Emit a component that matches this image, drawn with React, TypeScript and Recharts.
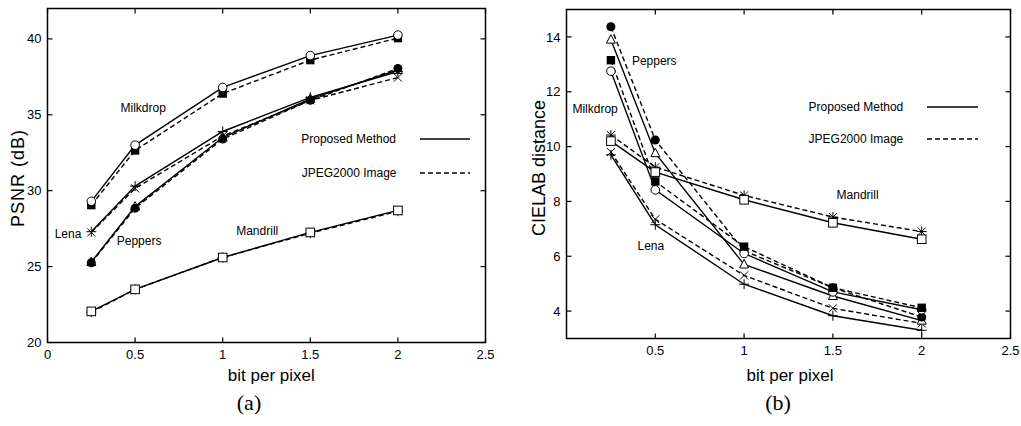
import { LineChart, Line, XAxis, YAxis, ReferenceDot } from "recharts";

const FONT = "'Liberation Sans', Arial, Helvetica, sans-serif";
const SERIF = "'Liberation Serif', 'Times New Roman', serif";

// bit per pixel
const BPP = [0.25, 0.5, 1, 1.5, 2];

// (a) PSNR in dB
const PSNR_MILKDROP_PROP = [29.3, 33.0, 36.8, 38.9, 40.25];
const PSNR_MILKDROP_JPEG = [29.05, 32.65, 36.4, 38.6, 40.05];
const PSNR_LENA_PROP = [27.3, 30.3, 33.9, 36.15, 37.85];
const PSNR_LENA_JPEG = [27.25, 30.15, 33.6, 35.95, 37.45];
const PSNR_PEPPERS_PROP = [25.3, 28.95, 33.5, 36.05, 37.95];
const PSNR_PEPPERS_JPEG = [25.25, 28.85, 33.4, 35.95, 38.05];
const PSNR_MANDRILL_PROP = [22.05, 23.5, 25.6, 27.25, 28.7];
const PSNR_MANDRILL_JPEG = [22.0, 23.5, 25.6, 27.2, 28.65];

// (b) CIELAB distance
const CIE_MILKDROP_PROP = [12.75, 8.42, 6.1, 4.7, 4.05];
const CIE_MILKDROP_JPEG = [13.15, 8.73, 6.35, 4.85, 4.12];
const CIE_PEPPERS_PROP = [13.9, 9.76, 5.7, 4.55, 3.65];
const CIE_PEPPERS_JPEG = [14.37, 10.24, 6.2, 4.85, 3.78];
const CIE_MANDRILL_PROP = [10.2, 9.07, 8.06, 7.22, 6.62];
const CIE_MANDRILL_JPEG = [10.42, 9.25, 8.22, 7.43, 6.9];
const CIE_LENA_PROP = [9.7, 7.15, 4.98, 3.83, 3.3];
const CIE_LENA_JPEG = [9.8, 7.35, 5.3, 4.1, 3.55];

const X_TICKS_A = [0, 0.5, 1, 1.5, 2, 2.5];
const X_TICKS_B = [0.5, 1, 1.5, 2, 2.5];
const Y_TICKS_A = [20, 25, 30, 35, 40];
const Y_TICKS_B = [4, 6, 8, 10, 12, 14];

const LABELS_A = [
  { text: "Milkdrop", x: 0.546, y: 35.45 },
  { text: "Lena", x: 0.117, y: 27.14 },
  { text: "Peppers", x: 0.523, y: 26.73 },
  { text: "Mandrill", x: 1.197, y: 27.37 },
];
const LABELS_B = [
  { text: "Peppers", x: 0.494, y: 13.13 },
  { text: "Milkdrop", x: 0.161, y: 11.39 },
  { text: "Lena", x: 0.475, y: 6.37 },
  { text: "Mandrill", x: 1.639, y: 8.24 },
];

type Kind =
  | "circleOpen"
  | "circleFilled"
  | "squareOpen"
  | "squareFilled"
  | "triangle"
  | "plus"
  | "cross"
  | "star";

type Series = { key: string; values: number[]; kind: Kind; dashed: boolean };

// drawing order matters where markers overlap
const SERIES_A: Series[] = [
  { key: "mandrillJ", values: PSNR_MANDRILL_JPEG, kind: "star", dashed: true },
  { key: "mandrillP", values: PSNR_MANDRILL_PROP, kind: "squareOpen", dashed: false },
  { key: "peppersP", values: PSNR_PEPPERS_PROP, kind: "triangle", dashed: false },
  { key: "peppersJ", values: PSNR_PEPPERS_JPEG, kind: "circleFilled", dashed: true },
  { key: "lenaJ", values: PSNR_LENA_JPEG, kind: "cross", dashed: true },
  { key: "lenaP", values: PSNR_LENA_PROP, kind: "plus", dashed: false },
  { key: "milkJ", values: PSNR_MILKDROP_JPEG, kind: "squareFilled", dashed: true },
  { key: "milkP", values: PSNR_MILKDROP_PROP, kind: "circleOpen", dashed: false },
];

const SERIES_B: Series[] = [
  { key: "mandrillJ", values: CIE_MANDRILL_JPEG, kind: "star", dashed: true },
  { key: "mandrillP", values: CIE_MANDRILL_PROP, kind: "squareOpen", dashed: false },
  { key: "lenaJ", values: CIE_LENA_JPEG, kind: "cross", dashed: true },
  { key: "lenaP", values: CIE_LENA_PROP, kind: "plus", dashed: false },
  { key: "peppersP", values: CIE_PEPPERS_PROP, kind: "triangle", dashed: false },
  { key: "peppersJ", values: CIE_PEPPERS_JPEG, kind: "circleFilled", dashed: true },
  { key: "milkP", values: CIE_MILKDROP_PROP, kind: "circleOpen", dashed: false },
  { key: "milkJ", values: CIE_MILKDROP_JPEG, kind: "squareFilled", dashed: true },
];

const buildRows = (series: Series[]) =>
  BPP.map((x, i) => {
    const row: Record<string, number> = { x };
    series.forEach((s) => (row[s.key] = s.values[i]));
    return row;
  });

const Marker = ({ cx, cy, kind }: { cx?: number; cy?: number; kind: Kind }) => {
  if (cx == null || cy == null) return null;
  const k = "#000";
  switch (kind) {
    case "circleOpen":
      return <circle cx={cx} cy={cy} r={4.3} fill="#fff" stroke={k} strokeWidth={1} />;
    case "circleFilled":
      return <circle cx={cx} cy={cy} r={4.5} fill={k} />;
    case "squareOpen":
      return <rect x={cx - 4.3} y={cy - 4.3} width={8.6} height={8.6} fill="#fff" stroke={k} strokeWidth={1} />;
    case "squareFilled":
      return <rect x={cx - 4.2} y={cy - 4.2} width={8.4} height={8.4} fill={k} />;
    case "triangle":
      return (
        <polygon
          points={`${cx},${cy - 5} ${cx - 4.5},${cy + 3.5} ${cx + 4.5},${cy + 3.5}`}
          fill="#fff"
          stroke={k}
          strokeWidth={1}
        />
      );
    case "plus":
      return (
        <g stroke={k} strokeWidth={1}>
          <line x1={cx - 5} y1={cy} x2={cx + 5} y2={cy} />
          <line x1={cx} y1={cy - 5} x2={cx} y2={cy + 5} />
        </g>
      );
    case "cross":
      return (
        <g stroke={k} strokeWidth={1}>
          <line x1={cx - 4} y1={cy - 4} x2={cx + 4} y2={cy + 4} />
          <line x1={cx - 4} y1={cy + 4} x2={cx + 4} y2={cy - 4} />
        </g>
      );
    default:
      return (
        <g stroke={k} strokeWidth={1}>
          <line x1={cx - 5} y1={cy} x2={cx + 5} y2={cy} />
          <line x1={cx} y1={cy - 5} x2={cx} y2={cy + 5} />
          <line x1={cx - 4} y1={cy - 4} x2={cx + 4} y2={cy + 4} />
          <line x1={cx - 4} y1={cy + 4} x2={cx + 4} y2={cy - 4} />
        </g>
      );
  }
};

const tickStyle = { fill: "#000", fontSize: 13, fontFamily: FONT };
const TICK_PX = 5;
const CHART_H = 426;
const X_AXIS_H = 30;
const X_DOMAIN: [number, number] = [0, 2.5];

type Margin = { top: number; right: number; bottom: number; left: number };

// gnuplot style box around the plot area, ticks pointing inward on every side
const Frame = ({ x, y, w, h, xTicks, yTicks, yDomain }: {
  x: number;
  y: number;
  w: number;
  h: number;
  xTicks: number[];
  yTicks: number[];
  yDomain: [number, number];
}) => {
  const px = (v: number) => x + ((v - X_DOMAIN[0]) / (X_DOMAIN[1] - X_DOMAIN[0])) * w;
  const py = (v: number) => y + ((yDomain[1] - v) / (yDomain[1] - yDomain[0])) * h;
  return (
    <svg
      width={x + w + 4}
      height={y + h + 4}
      style={{ position: "absolute", left: 0, top: 0, pointerEvents: "none" }}
    >
      <rect x={x} y={y} width={w} height={h} fill="none" stroke="#000" strokeWidth={1.5} />
      <g stroke="#000" strokeWidth={1.2}>
        {xTicks.map((t) => (
          <g key={`x${t}`}>
            <line x1={px(t)} y1={y + h} x2={px(t)} y2={y + h - TICK_PX} />
            <line x1={px(t)} y1={y} x2={px(t)} y2={y + TICK_PX} />
          </g>
        ))}
        {yTicks.map((t) => (
          <g key={`y${t}`}>
            <line x1={x} y1={py(t)} x2={x + TICK_PX} y2={py(t)} />
            <line x1={x + w} y1={py(t)} x2={x + w - TICK_PX} y2={py(t)} />
          </g>
        ))}
      </g>
    </svg>
  );
};

const Panel = ({
  series,
  labels,
  xTicks,
  yTicks,
  yDomain,
  width,
  yAxisWidth,
  margin,
}: {
  series: Series[];
  labels: { text: string; x: number; y: number }[];
  xTicks: number[];
  yTicks: number[];
  yDomain: [number, number];
  width: number;
  yAxisWidth: number;
  margin: Margin;
}) => {
  const plotX = margin.left + yAxisWidth;
  const plotW = width - margin.right - plotX;
  const plotH = CHART_H - margin.top - margin.bottom - X_AXIS_H;
  return (
    <div style={{ position: "relative", width, height: CHART_H }}>
      <LineChart width={width} height={CHART_H} data={buildRows(series)} margin={margin}>
        <XAxis
          dataKey="x"
          type="number"
          domain={X_DOMAIN}
          ticks={xTicks}
          interval={0}
          allowDataOverflow
          axisLine={false}
          tickLine={false}
          tickSize={0}
          tickMargin={7}
          height={X_AXIS_H}
          tick={tickStyle}
        />
        <YAxis
          type="number"
          domain={yDomain}
          ticks={yTicks}
          interval={0}
          allowDataOverflow
          axisLine={false}
          tickLine={false}
          tickSize={0}
          tickMargin={6}
          width={yAxisWidth}
          tick={tickStyle}
        />
        {series.map((s) => (
          <Line
            key={s.key}
            dataKey={s.key}
            type="linear"
            stroke="#000"
            strokeWidth={1.4}
            strokeDasharray={s.dashed ? "5 3" : undefined}
            dot={(p: any) => <Marker key={`${s.key}-${p.index}`} cx={p.cx} cy={p.cy} kind={s.kind} />}
            activeDot={false}
            isAnimationActive={false}
          />
        ))}
        {labels.map((l) => (
          <ReferenceDot
            key={l.text}
            x={l.x}
            y={l.y}
            r={0}
            fill="none"
            stroke="none"
            label={{ value: l.text, position: "center", fill: "#000", fontSize: 12, fontFamily: FONT }}
          />
        ))}
      </LineChart>
      <Frame x={plotX} y={margin.top} w={plotW} h={plotH} xTicks={xTicks} yTicks={yTicks} yDomain={yDomain} />
    </div>
  );
};

const Txt = ({
  x,
  y,
  children,
  size = 12,
  rotate = 0,
  family = FONT,
  spacing = 0,
}: {
  x: number;
  y: number;
  children: string;
  size?: number;
  rotate?: number;
  family?: string;
  spacing?: number;
}) => (
  <div
    style={{
      position: "absolute",
      left: x,
      top: y,
      transform: `translate(-50%, -50%) rotate(${rotate}deg)`,
      fontSize: size,
      fontFamily: family,
      lineHeight: 1,
      whiteSpace: "nowrap",
      letterSpacing: spacing,
      color: "#000",
    }}
  >
    {children}
  </div>
);

const LegendKey = ({ right, y, lineX1, lineX2, text, dashed }: {
  right: number;
  y: number;
  lineX1: number;
  lineX2: number;
  text: string;
  dashed: boolean;
}) => (
  <>
    <div
      style={{
        position: "absolute",
        left: right - 200,
        width: 200,
        top: y - 7,
        textAlign: "right",
        fontSize: 12,
        fontFamily: FONT,
        lineHeight: "14px",
        whiteSpace: "nowrap",
      }}
    >
      {text}
    </div>
    <svg style={{ position: "absolute", left: lineX1, top: y - 2 }} width={lineX2 - lineX1} height={4}>
      <line x1={0} y1={2} x2={lineX2 - lineX1} y2={2} stroke="#000" strokeWidth={1.4} strokeDasharray={dashed ? "5 3" : undefined} />
    </svg>
  </>
);

export default function App() {
  return (
    <div style={{ position: "absolute", left: 0, top: 0, width: 1021, height: 426, background: "#fff" }}>
      <div style={{ position: "absolute", left: 0, top: 0 }}>
        <Panel
          series={SERIES_A}
          labels={LABELS_A}
          xTicks={X_TICKS_A}
          yTicks={Y_TICKS_A}
          yDomain={[20, 42]}
          width={500}
          yAxisWidth={47.5}
          margin={{ top: 8.5, right: 14.5, bottom: 53.5, left: 0 }}
        />
      </div>
      <div style={{ position: "absolute", left: 510, top: 0 }}>
        <Panel
          series={SERIES_B}
          labels={LABELS_B}
          xTicks={X_TICKS_B}
          yTicks={Y_TICKS_B}
          yDomain={[3, 15]}
          width={511}
          yAxisWidth={50}
          margin={{ top: 9.5, right: 10.5, bottom: 57.5, left: 6.5 }}
        />
      </div>

      <Txt x={18.3} y={178.3} size={18} rotate={-90} spacing={1}>PSNR (dB)</Txt>
      <Txt x={539.2} y={167.5} size={18} rotate={-90}>CIELAB distance</Txt>
      <Txt x={271.3} y={374.5} size={17}>bit per pixel</Txt>
      <Txt x={790} y={374.5} size={17}>bit per pixel</Txt>
      <Txt x={249} y={402.5} size={22} family={SERIF}>(a)</Txt>
      <Txt x={778} y={402.5} size={22} family={SERIF}>(b)</Txt>

      <LegendKey right={396} y={139.3} lineX1={420} lineX2={470} text="Proposed Method" dashed={false} />
      <LegendKey right={396.5} y={173.3} lineX1={420} lineX2={470} text="JPEG2000 Image" dashed />
      <LegendKey right={903.3} y={106.7} lineX1={926.7} lineX2={977.7} text="Proposed Method" dashed={false} />
      <LegendKey right={903.3} y={139.3} lineX1={926.7} lineX2={977.7} text="JPEG2000 Image" dashed />
    </div>
  );
}
